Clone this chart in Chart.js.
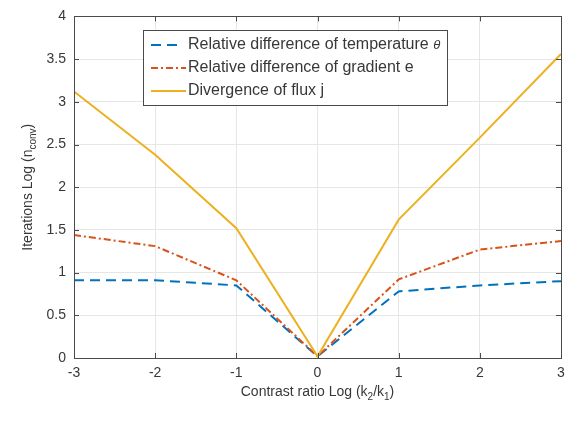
<!DOCTYPE html>
<html lang="en">

<head>
  <meta charset="UTF-8">
  <meta name="viewport" content="width=device-width, initial-scale=1.0">
  <title>Iterations vs contrast ratio</title>

  <script src="https://cdn.jsdelivr.net/npm/chart.js@4.4.0/dist/chart.umd.min.js"></script>

  <style>
    body {
      margin: 0;
      background-color: #fff;
    }

    .chart-container {
      width: 579px;
      height: 421px;
    }
  </style>
</head>

<body>

  <div class="chart-container">
    <canvas id="chart-iterations" width="579" height="421"></canvas>
  </div>

  <script>
    // values (log scale on both axes)
    const contrastRatio = [-3, -2, -1, 0, 1, 2, 3];
    const temperatureDiff = [0.91, 0.91, 0.85, 0.02, 0.78, 0.85, 0.90];
    const gradientDiff = [1.44, 1.31, 0.91, 0.02, 0.92, 1.27, 1.37];
    const fluxDivergence = [3.12, 2.38, 1.52, 0.02, 1.62, 2.58, 3.56];

    const seriesLabels = [
      'Relative difference of temperature ',
      'Relative difference of gradient e',
      'Divergence of flux j'
    ];
    const xTicks = [-3, -2, -1, 0, 1, 2, 3];
    const yTicks = [0, 0.5, 1, 1.5, 2, 2.5, 3, 3.5, 4];

    const FONT = "'Liberation Sans', Arial, sans-serif";
    const TEXT = '#383838';
    const AXIS = '#4a4a4a';

    function toPoints(ys) {
      return contrastRatio.map((x, i) => ({ x: x, y: ys[i] }));
    }

    // draws a run of text pieces, some of them as subscripts, centred on (cx, cy)
    function drawRich(ctx, parts, cx, cy, size, rotate) {
      ctx.save();
      ctx.translate(cx, cy);
      if (rotate) ctx.rotate(-Math.PI / 2);
      const subSize = Math.round(size * 0.7);
      let total = 0;
      parts.forEach(p => {
        ctx.font = (p.sub ? subSize : size) + 'px ' + FONT;
        total += ctx.measureText(p.text).width;
      });
      let x = -total / 2;
      ctx.fillStyle = TEXT;
      ctx.textBaseline = 'middle';
      ctx.textAlign = 'left';
      parts.forEach(p => {
        ctx.font = (p.sub ? subSize : size) + 'px ' + FONT;
        ctx.fillText(p.text, x, p.sub ? size * 0.35 : 0);
        x += ctx.measureText(p.text).width;
      });
      ctx.restore();
    }

    const matlabAxes = {
      id: 'matlabAxes',
      afterDraw(chart) {
        const ctx = chart.ctx;
        const a = chart.chartArea;
        const xs = chart.scales.x;
        const ys = chart.scales.y;

        // inward tick marks on all four sides + box
        ctx.save();
        ctx.strokeStyle = AXIS;
        ctx.lineWidth = 1;
        ctx.beginPath();
        xTicks.forEach(t => {
          const px = Math.round(xs.getPixelForValue(t)) + 0.5;
          ctx.moveTo(px, a.bottom); ctx.lineTo(px, a.bottom - 5);
          ctx.moveTo(px, a.top); ctx.lineTo(px, a.top + 5);
        });
        yTicks.forEach(t => {
          const py = Math.round(ys.getPixelForValue(t)) + 0.5;
          ctx.moveTo(a.left, py); ctx.lineTo(a.left + 5, py);
          ctx.moveTo(a.right, py); ctx.lineTo(a.right - 5, py);
        });
        ctx.stroke();
        ctx.strokeRect(Math.round(a.left) + 0.5, Math.round(a.top) + 0.5,
          Math.round(a.right - a.left), Math.round(a.bottom - a.top));
        ctx.restore();

        // axis titles
        drawRich(ctx, [
          { text: 'Contrast ratio Log (k' }, { text: '2', sub: true },
          { text: '/k' }, { text: '1', sub: true }, { text: ')' }
        ], (a.left + a.right) / 2, 392, 14, false);
        drawRich(ctx, [
          { text: 'Iterations Log (n' }, { text: 'conv', sub: true }, { text: ')' }
        ], 28, (a.top + a.bottom) / 2, 14, true);

        // legend box inside the axes
        const box = { x: 143.5, y: 30.5, w: 304, h: 75 };
        ctx.save();
        ctx.fillStyle = '#fff';
        ctx.fillRect(box.x, box.y, box.w, box.h);
        ctx.strokeStyle = AXIS;
        ctx.strokeRect(box.x, box.y, box.w, box.h);
        const rows = [45, 68, 91];
        chart.data.datasets.forEach((ds, i) => {
          ctx.strokeStyle = ds.borderColor;
          ctx.lineWidth = ds.borderWidth;
          ctx.setLineDash(ds.borderDash || []);
          ctx.beginPath();
          ctx.moveTo(151, rows[i]);
          ctx.lineTo(i === 0 ? 178 : 186, rows[i]);
          ctx.stroke();
          ctx.setLineDash([]);
          ctx.fillStyle = TEXT;
          ctx.font = '16px ' + FONT;
          ctx.textBaseline = 'middle';
          ctx.fillText(ds.label, 188, rows[i]);
          if (i === 0) {
            const w = ctx.measureText(ds.label).width;
            ctx.font = 'italic 13px ' + FONT;
            ctx.fillText('\u03b8', 188 + w, rows[i]);
          }
        });
        ctx.restore();
      }
    };

    new Chart(document.getElementById('chart-iterations'), {
      type: 'line',
      data: {
        datasets: [
          {
            label: seriesLabels[0],
            data: toPoints(temperatureDiff),
            borderColor: '#0072BD',
            borderWidth: 2,
            borderDash: [10, 6],
            order: 3
          },
          {
            label: seriesLabels[1],
            data: toPoints(gradientDiff),
            borderColor: '#D95319',
            borderWidth: 2,
            borderDash: [7, 3, 2, 3],
            order: 2
          },
          {
            label: seriesLabels[2],
            data: toPoints(fluxDivergence),
            borderColor: '#EDB120',
            borderWidth: 2,
            order: 1
          }
        ]
      },
      options: {
        responsive: false,
        animation: false,
        devicePixelRatio: 1,
        layout: { padding: { left: 0, top: 14, right: 18, bottom: 0 } },
        elements: { point: { radius: 0 }, line: { tension: 0 } },
        plugins: { legend: { display: false }, tooltip: { enabled: false } },
        scales: {
          x: {
            type: 'linear',
            min: -3,
            max: 3,
            afterBuildTicks: s => { s.ticks = xTicks.map(v => ({ value: v })); },
            afterFit: s => { s.height = 63; },
            grid: { color: '#e6e6e6', drawTicks: false },
            border: { display: false },
            ticks: { padding: 7, color: TEXT, font: { family: FONT, size: 14 }, callback: v => String(v) }
          },
          y: {
            min: 0,
            max: 4,
            afterBuildTicks: s => { s.ticks = yTicks.map(v => ({ value: v })); },
            afterFit: s => { s.width = 74; },
            grid: { color: '#e6e6e6', drawTicks: false },
            border: { display: false },
            ticks: { padding: 8, color: TEXT, font: { family: FONT, size: 14 }, callback: v => String(v) }
          }
        }
      },
      plugins: [matlabAxes]
    });
  </script>
</body>

</html>
